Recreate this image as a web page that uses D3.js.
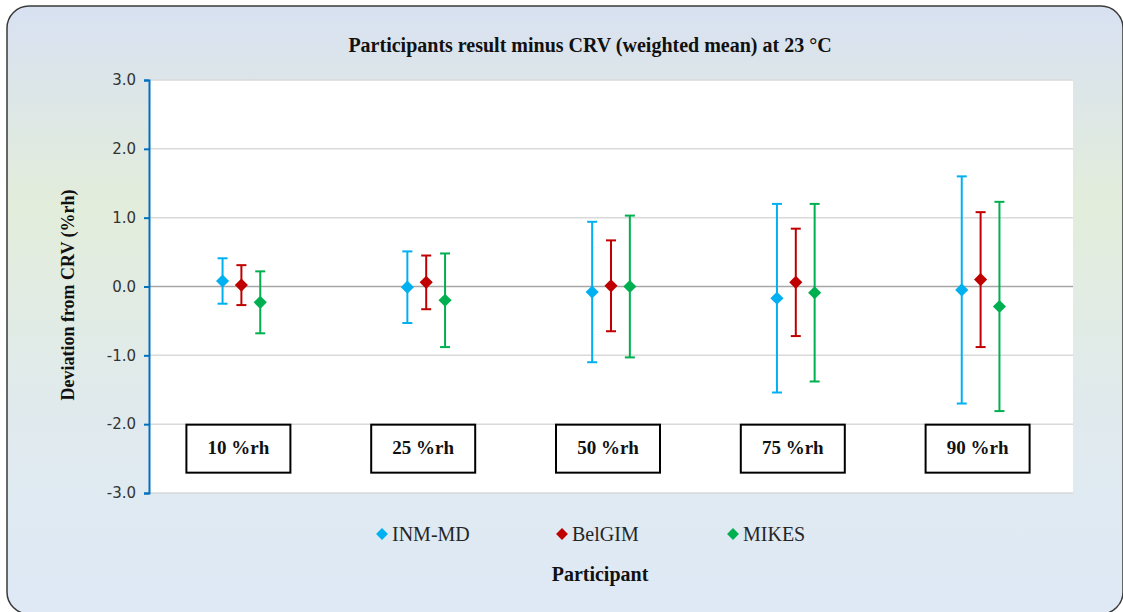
<!DOCTYPE html>
<html>
<head>
<meta charset="utf-8">
<script src="https://cdn.jsdelivr.net/npm/d3@7"></script>
<style>
html,body{margin:0;padding:0;background:#fff;}
svg{display:block;}
</style>
</head>
<body>
<svg id="chart" width="1123" height="612"></svg>
<script>
// ---- data ----
const categories = ["10 %rh", "25 %rh", "50 %rh", "75 %rh", "90 %rh"];
const series = ["INM-MD", "BelGIM", "MIKES"];
const colors = ["#00b0f0", "#c00000", "#00b050"];
const inmValues   = [0.08, -0.01, -0.08, -0.17, -0.05];
const inmU        = [0.33, 0.52, 1.02, 1.37, 1.65];
const belgimValues = [0.02, 0.06, 0.01, 0.06, 0.10];
const belgimU      = [0.29, 0.39, 0.66, 0.78, 0.98];
const mikesValues = [-0.23, -0.20, 0.00, -0.09, -0.29];
const mikesU      = [0.45, 0.68, 1.03, 1.29, 1.52];
const yTicks = [-3, -2, -1, 0, 1, 2, 3];
const yTickLabels = ["-3.0", "-2.0", "-1.0", "0.0", "1.0", "2.0", "3.0"];
const titleText = "Participants result minus CRV (weighted mean) at 23 \u00B0C";
const yTitle = "Deviation from CRV (%rh)";
const xTitle = "Participant";

const seriesData = [
  {name: series[0], color: colors[0], values: inmValues, u: inmU},
  {name: series[1], color: colors[1], values: belgimValues, u: belgimU},
  {name: series[2], color: colors[2], values: mikesValues, u: mikesU}
];

const svg = d3.select("#chart");
const plot = {left: 149, right: 1073, top: 80, bottom: 493};

// background gradient
const defs = svg.append("defs");
const grad = defs.append("linearGradient").attr("id", "bg").attr("x1", 0).attr("y1", 0).attr("x2", 0).attr("y2", 1);
grad.append("stop").attr("offset", "0%").attr("stop-color", "#d8e1f1");
grad.append("stop").attr("offset", "33%").attr("stop-color", "#e3eddb");
grad.append("stop").attr("offset", "68%").attr("stop-color", "#e0eaee");
grad.append("stop").attr("offset", "100%").attr("stop-color", "#dfe9f6");

svg.append("rect").attr("x", 7).attr("y", 6).attr("width", 1116).attr("height", 608)
  .attr("rx", 22).attr("ry", 22)
  .attr("fill", "url(#bg)").attr("stroke", "#3a3a3a").attr("stroke-width", 1.5);

// scales
const x0 = d3.scaleBand().domain(categories).range([plot.left, plot.right]).padding(0);
const off = x0.bandwidth() * 0.102;
const x1 = d3.scalePoint().domain(series).range([-off, off]);
const y = d3.scaleLinear().domain([-3, 3]).range([plot.bottom, plot.top]);

// plot area
svg.append("rect").attr("x", plot.left).attr("y", plot.top)
  .attr("width", plot.right - plot.left).attr("height", plot.bottom - plot.top)
  .attr("fill", "#ffffff");

// gridlines
svg.append("g").selectAll("line").data(yTicks).join("line")
  .attr("x1", plot.left).attr("x2", plot.right)
  .attr("y1", d => y(d)).attr("y2", d => y(d))
  .attr("stroke", d => d === 0 ? "#a6a6a6" : "#d9d9d9")
  .attr("stroke-width", 1.5);

// y axis
const yAxis = d3.axisLeft(y).tickValues(yTicks)
  .tickFormat((d, i) => yTickLabels[i]).tickSize(5).tickPadding(8);
const gy = svg.append("g").attr("transform", `translate(${plot.left},0)`).call(yAxis);
gy.select(".domain").attr("stroke", "#0070c0").attr("stroke-width", 2);
gy.selectAll(".tick line").attr("stroke", "#0070c0").attr("stroke-width", 2);
gy.selectAll(".tick text").attr("fill", "#333")
  .style("font-family", "'DejaVu Sans', sans-serif").style("font-size", "15px");

// category label boxes
const boxW = 104, boxH = 48;
const boxG = svg.append("g").selectAll("g").data(categories).join("g")
  .attr("transform", d => `translate(${x0(d) + x0.bandwidth() / 2 - 3},${y(-2) + 0.5})`);
boxG.append("rect").attr("x", -boxW / 2).attr("y", 0).attr("width", boxW).attr("height", boxH)
  .attr("fill", "#ffffff").attr("stroke", "#000").attr("stroke-width", 2);
boxG.append("text").attr("x", 0).attr("y", 29).attr("text-anchor", "middle")
  .style("font-family", "'Liberation Serif', 'Times New Roman', serif")
  .style("font-weight", "bold").style("font-size", "19px").attr("fill", "#111")
  .text(d => d);

// error bars and markers
const capW = 5;
seriesData.forEach(s => {
  const g = svg.append("g");
  const pts = categories.map((c, i) => ({c, v: s.values[i], u: s.u[i]}));
  const cx = d => x0(d.c) + x0.bandwidth() / 2 + x1(s.name);
  g.selectAll("line.v").data(pts).join("line").attr("class", "v")
    .attr("x1", cx).attr("x2", cx)
    .attr("y1", d => y(d.v + d.u)).attr("y2", d => y(d.v - d.u))
    .attr("stroke", s.color).attr("stroke-width", 2);
  g.selectAll("line.t").data(pts).join("line").attr("class", "t")
    .attr("x1", d => cx(d) - capW).attr("x2", d => cx(d) + capW)
    .attr("y1", d => y(d.v + d.u)).attr("y2", d => y(d.v + d.u))
    .attr("stroke", s.color).attr("stroke-width", 2);
  g.selectAll("line.b").data(pts).join("line").attr("class", "b")
    .attr("x1", d => cx(d) - capW).attr("x2", d => cx(d) + capW)
    .attr("y1", d => y(d.v - d.u)).attr("y2", d => y(d.v - d.u))
    .attr("stroke", s.color).attr("stroke-width", 2);
  g.selectAll("path").data(pts).join("path")
    .attr("d", d3.symbol(d3.symbolDiamond2, 110)())
    .attr("transform", d => `translate(${cx(d)},${y(d.v)})`)
    .attr("fill", s.color);
});

// title
svg.append("text").attr("x", 590).attr("y", 52).attr("text-anchor", "middle")
  .style("font-family", "'Liberation Serif', 'Times New Roman', serif")
  .style("font-weight", "bold").style("font-size", "20px").attr("fill", "#111")
  .text(titleText);

// y title
svg.append("text").attr("transform", "translate(74,295) rotate(-90)")
  .attr("text-anchor", "middle")
  .style("font-family", "'Liberation Serif', 'Times New Roman', serif")
  .style("font-weight", "bold").style("font-size", "18px").attr("fill", "#111")
  .text(yTitle);

// x title
svg.append("text").attr("x", 600).attr("y", 581).attr("text-anchor", "middle")
  .style("font-family", "'Liberation Serif', 'Times New Roman', serif")
  .style("font-weight", "bold").style("font-size", "20px").attr("fill", "#111")
  .text(xTitle);

// legend
const legendX = [382, 562, 733];
const lg = svg.append("g").selectAll("g").data(seriesData).join("g")
  .attr("transform", (d, i) => `translate(${legendX[i]},534)`);
lg.append("path").attr("d", d3.symbol(d3.symbolDiamond2, 90)()).attr("fill", d => d.color);
lg.append("text").attr("x", 10).attr("y", 7)
  .style("font-family", "'Liberation Serif', 'Times New Roman', serif")
  .style("font-size", "20px").attr("fill", "#262626")
  .text(d => d.name);
</script>
</body>
</html>
